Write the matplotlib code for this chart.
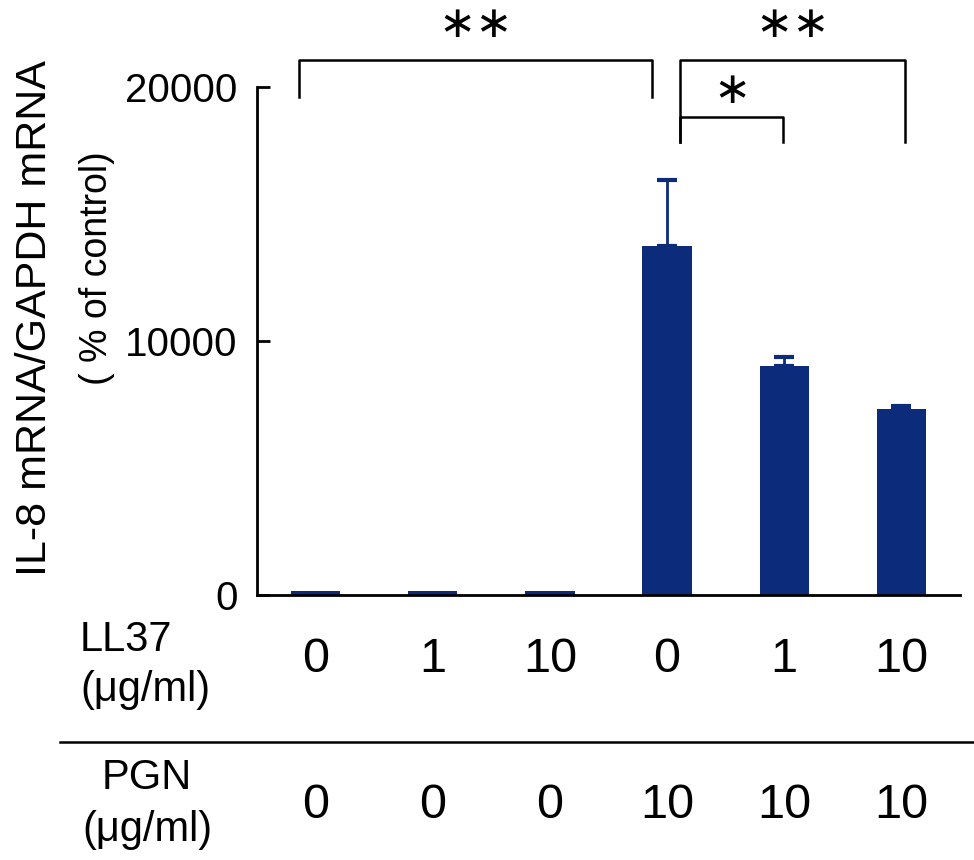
import matplotlib
matplotlib.use('Agg')
import matplotlib.pyplot as plt
import matplotlib.transforms as mtransforms
import numpy as np

plt.rcParams['font.family'] = ['Liberation Sans', 'DejaVu Sans']

# group data
ll37 = ['0', '1', '10', '0', '1', '10']
pgn = ['0', '0', '0', '10', '10', '10']
il8 = [150, 150, 150, 13750, 9000, 7330]
il8_err = [0, 0, 0, 2600, 370, 120]

# significance brackets: (left x, right x, top y, leg bottom y, stars, label y)
brackets = [
    (-0.14, 2.87, 21050, 19600, 2, 22450),
    (3.11, 5.03, 21050, 17850, 2, 22450),
    (3.11, 3.99, 18800, 17850, 1, 19850),
]

BAR_COLOR = '#0c2b7b'
W, H = 974, 860

fig = plt.figure(figsize=(W / 100, H / 100), dpi=100)
ax = fig.add_axes([257 / W, 1 - 595 / H, (960 - 257) / W, (595 - 87) / H])

x = np.arange(len(il8))
ax.bar(x, il8, width=0.42, color=BAR_COLOR, zorder=2)
ax.errorbar(x[3:], il8[3:], yerr=[np.zeros(3), il8_err[3:]], fmt='none',
            ecolor=BAR_COLOR, elinewidth=2, capsize=7, capthick=3, zorder=1)

ax.set_xlim(-0.5, 5.5)
ax.set_ylim(0, 20000)
ax.set_yticks([0, 10000, 20000])
ax.set_yticklabels(['0', '10000', '20000'], fontsize=29)
ax.set_xticks([])
ax.tick_params(axis='y', direction='in', length=9, width=2, pad=14)
for side in ['top', 'right']:
    ax.spines[side].set_visible(False)
for side in ['left', 'bottom']:
    ax.spines[side].set_linewidth(2)

# y labels
fig.text(35 / W, 1 - 318 / H, 'IL-8 mRNA/GAPDH mRNA', rotation=90,
         fontsize=31, ha='center', va='center')
fig.text(97 / W, 1 - 268 / H, '( % of control)', rotation=90,
         fontsize=27, ha='center', va='center')

# brackets
for x0, x1, ytop, ybot, n, ylab in brackets:
    ax.plot([x0, x0, x1, x1], [ybot, ytop, ytop, ybot], color='black',
            lw=1.8, clip_on=False)
    ax.text((x0 + x1) / 2, ylab, '\u2217' * n, ha='center',
            va='center', fontsize=32, family='DejaVu Sans', clip_on=False)

# condition table below the axis
trans = mtransforms.blended_transform_factory(ax.transData, fig.transFigure)
for i in range(len(ll37)):
    ax.text(x[i], 1 - 660 / H, ll37[i], transform=trans, ha='center',
            va='center', fontsize=35)
    ax.text(x[i], 1 - 805 / H, pgn[i], transform=trans, ha='center',
            va='center', fontsize=35)

fig.text(80 / W, 1 - 640 / H, 'LL37', ha='left', va='center', fontsize=30)
fig.text(80 / W, 1 - 690 / H, '(\u03bcg/ml)', ha='left', va='center', fontsize=30)
fig.text(147 / W, 1 - 778 / H, 'PGN', ha='center', va='center', fontsize=30)
fig.text(147 / W, 1 - 830 / H, '(\u03bcg/ml)', ha='center', va='center', fontsize=30)

fig.add_artist(plt.Line2D([60 / W, 1.0], [1 - 742 / H, 1 - 742 / H],
                          color='black', lw=1.8))

fig.savefig('out.png', dpi=100)
